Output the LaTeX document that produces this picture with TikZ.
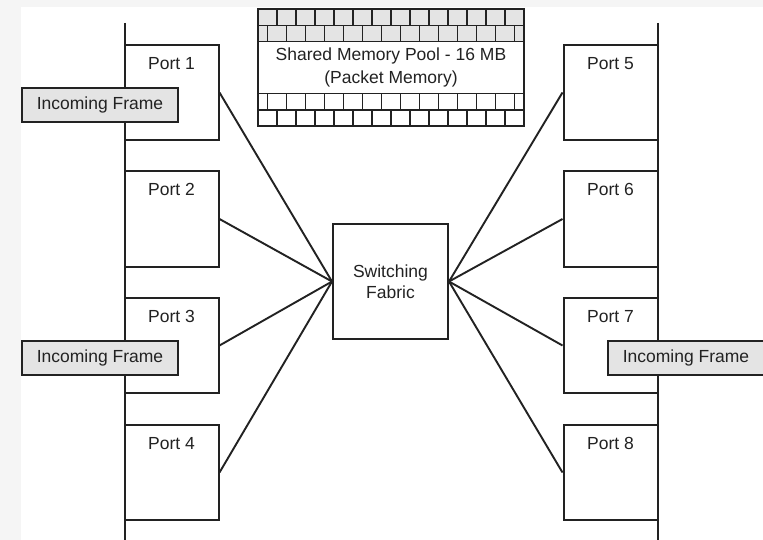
\documentclass[tikz,border=0pt]{standalone}
\usepackage{fontspec}
\setmainfont{Liberation Sans}
\usetikzlibrary{positioning}
\definecolor{ink}{HTML}{222222}
\definecolor{paper}{HTML}{F5F5F5}
\definecolor{framegray}{HTML}{E4E4E4}
\tikzset{port/.style={draw=ink, fill=white, line width=2pt, rectangle, minimum width=94pt, minimum height=95pt}}
\tikzset{portlbl/.style={inner sep=0pt, text=ink}}
\tikzset{inframe/.style={draw=ink, fill=framegray, line width=2pt, rectangle, minimum width=156pt, minimum height=34pt, inner sep=0pt, text=ink}}
\tikzset{brick/.style={draw=ink, line width=1.7pt}}

\begin{document}
\begin{tikzpicture}[x=1pt, y=-1pt, font=\fontsize{17.5}{21}\selectfont]
\tikzstyle{wire}=[draw=ink, line width=1.9pt]
\tikzstyle{bus}=[draw=ink, line width=2pt]
\tikzstyle{fabricbox}=[draw=ink, fill=white, line width=2pt, rectangle, minimum size=115pt, align=center, text=ink]
\tikzstyle{poolbox}=[draw=ink, line width=2pt, rectangle, minimum width=266pt, minimum height=117pt, align=center, text=ink, font=\fontsize{17.5}{23}\selectfont]
\useasboundingbox (0,0) rectangle (763,540);
\fill[paper] (0,0) rectangle (763,540);
\fill[white] (21,7) rectangle (763,540);

\coordinate (ltop) at (124.5,23);
\coordinate (lbot) at (124.5,540);
\coordinate (rtop) at (658,23);
\coordinate (rbot) at (658,540);
\draw[bus] (ltop) -- (lbot);
\draw[bus] (rtop) -- (rbot);

\fill[framegray] (258,9) rectangle (524,41.5);
\foreach \y in {25.5,41.5,93.5,110} \draw[brick] (258,\y) -- (524,\y);
\foreach \k in {1,...,13} {
  \draw[brick] ({258+19*\k},9) -- ({258+19*\k},25.5);
  \draw[brick] ({258+19*\k},110) -- ({258+19*\k},126);
}
\foreach \k in {0,...,13} {
  \draw[brick] ({267.5+19*\k},25.5) -- ({267.5+19*\k},41.5);
  \draw[brick] ({267.5+19*\k},93.5) -- ({267.5+19*\k},110);
}
\node[poolbox] (pool) at (391,67.5) {Shared Memory Pool - 16 MB\\(Packet Memory)};

\node[fabricbox] (fabric) at (390.5,281.5) {Switching\\Fabric};

\foreach \i/\y in {1/92.5,2/219,3/345.5,4/472.5} {
  \node[port] (port\i) at (171.5,\y) {};
  \node[portlbl, below=13pt of port\i.north] {Port \i};
  \draw[wire] (port\i.east) -- (fabric.west);
}
\foreach \i/\y in {5/92.5,6/219,7/345.5,8/472.5} {
  \node[port] (port\i) at (610.5,\y) {};
  \node[portlbl, below=13pt of port\i.north] {Port \i};
  \draw[wire] (port\i.west) -- (fabric.east);
}

\node[inframe] (in1) at (100,105) {Incoming Frame};
\node[inframe] (in3) at (100,357.5) {Incoming Frame};
\node[inframe] (in7) at (686,357.5) {Incoming Frame};
\end{tikzpicture}
\end{document}
